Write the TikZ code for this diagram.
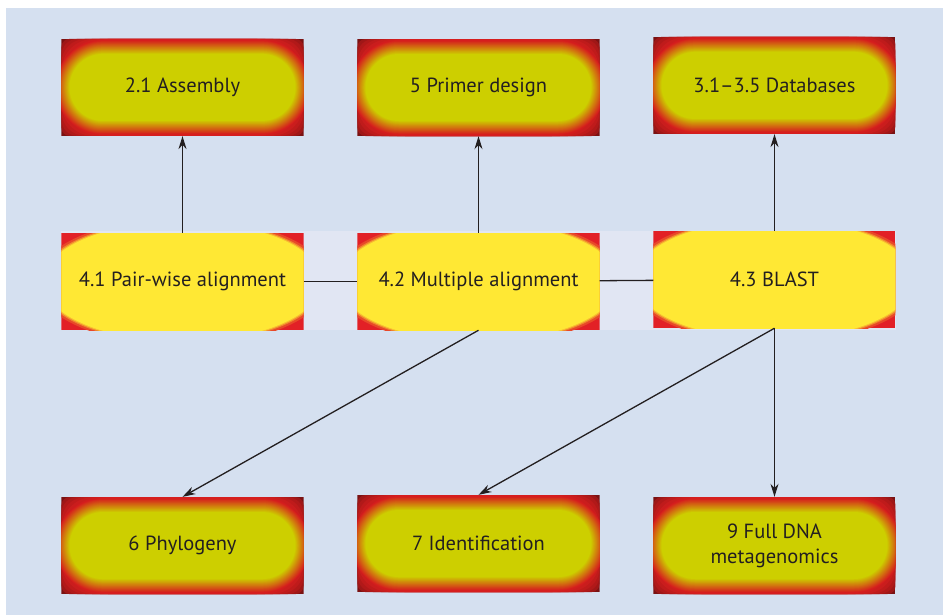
\documentclass[tikz,border=0pt]{standalone}
\usepackage{fontspec}
\setmainfont{PT Sans}
\usetikzlibrary{matrix,arrows.meta,backgrounds}
\definecolor{bgblue}{RGB}{213,224,240}
\definecolor{bandblue}{RGB}{225,230,243}
\definecolor{heatred}{RGB}{214,30,30}
\definecolor{heatdark}{RGB}{122,18,18}
\definecolor{heatyel}{RGB}{205,207,0}
\definecolor{hubred}{RGB}{226,32,38}
\definecolor{hubyel}{RGB}{255,232,52}
\definecolor{ink}{RGB}{35,31,32}

\tikzset{
  heat/.style={minimum width=242pt, minimum height=97pt, inner sep=0pt, text=ink,
    path picture={
      \fill[heatdark] (path picture bounding box.south west) rectangle (path picture bounding box.north east);
      \foreach \r/\c in {8/40,16/60,24/75,32/87,40/95,48/100}
        \fill[heatred!\c!heatdark, rounded corners=\r pt] (path picture bounding box.south west) rectangle (path picture bounding box.north east);
      \foreach \k in {0,...,18}{
        \pgfmathsetmacro\hy{47-0.75*\k}
        \pgfmathsetmacro\hx{127-0.78*\k}
        \pgfmathsetmacro\rr{\hy-0.01}
        \pgfmathsetmacro\t{100*\k/18}
        \fill[heatyel!\t!heatred, rounded corners=\rr pt]
          ([shift={(-\hx pt,-\hy pt)}]path picture bounding box.center) rectangle ([shift={(\hx pt,\hy pt)}]path picture bounding box.center);
      }
    }},
  hub/.style={minimum width=242pt, minimum height=97pt, inner sep=0pt, text=ink,
    path picture={
      \fill[hubred] (path picture bounding box.south west) rectangle (path picture bounding box.north east);
      \foreach \rx/\ry/\c in {146/64/20,143/62/50,141/61/80,139.5/60/100}
        \fill[hubyel!\c!hubred] (path picture bounding box.center) ellipse [x radius=\rx pt, y radius=\ry pt];
    }},
  link/.style={ink, line width=1.3pt},
  flow/.style={link, -{Stealth[length=13pt,width=8pt]}},
}

\begin{document}
\begin{tikzpicture}[x=1pt, y=1pt]
  \useasboundingbox (0,0) rectangle (943,615);
  \fontsize{20.5pt}{25pt}\selectfont
  \matrix[matrix of nodes, ampersand replacement=\&, column sep=54pt, row sep=0pt, nodes={heat}] (chart) at (478.5,299.5) {
    |(asm)| 2.1 Assembly \& |(pri)| 5 Primer design \& |(dbs)| 3.1--3.5 Databases \\[95pt]
    |[hub](p41)| 4.1 Pair-wise alignment \& |[hub](p42)| 4.2 Multiple alignment \& |[hub](p43)| 4.3 BLAST \\[165pt]
    |(phy)| 6 Phylogeny \& |(idn)| 7 Identification \& |(meta)| \begin{tabular}{@{}c@{}}9 Full DNA\\metagenomics\end{tabular} \\
  };
  \begin{scope}[on background layer]
    \fill[bgblue] (6,0) rectangle (943,607);
    \fill[bandblue] (p41.south west) rectangle (p43.north east);
  \end{scope}
  \path (p41) edge[link] (p42);
  \path (p42) edge[link] (p43);
  \path (p41.north) edge[flow] (p41.north |- asm.south);
  \path (p42.north) edge[flow] (p42.north |- pri.south);
  \path (p43.north) edge[flow] (p43.north |- dbs.south);
  \path (p42.south) edge[flow] (phy.north);
  \path (p43.south) edge[flow] (idn.north);
  \path (p43.south) edge[flow] (meta.north);
\end{tikzpicture}
\end{document}
